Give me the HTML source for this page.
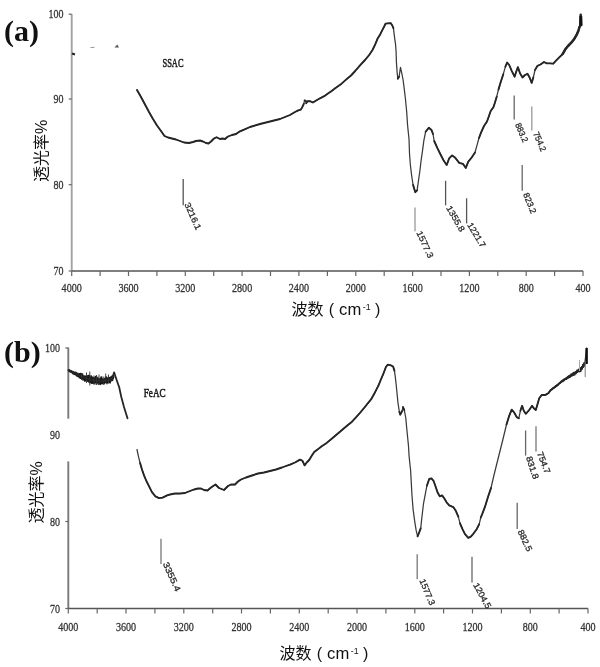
<!DOCTYPE html>
<html><head><meta charset="utf-8"><title>FTIR</title>
<style>html,body{margin:0;padding:0;background:#fff;width:600px;height:667px;overflow:hidden}svg{display:block}</style>
</head><body>
<svg width="600" height="667" viewBox="0 0 600 667">
<style>
.ax{stroke:#999;stroke-width:1.9}
.xax{stroke:#555;stroke-width:1.6}
.tk{stroke:#666;stroke-width:1.2}
.tl{font-family:"Liberation Serif",serif;font-size:13px;fill:#333;stroke:#333;stroke-width:0.3}
.pk{font-family:"Liberation Sans",sans-serif;font-size:8.7px;fill:#2a2a2a;stroke:#2a2a2a;stroke-width:0.3}
.cv{fill:none;stroke:#262626;stroke-width:1.85;stroke-linejoin:round;stroke-linecap:round}
.zh{font-family:"Liberation Sans","Noto Sans CJK SC",sans-serif;font-size:16px;fill:#111}
.lab{font-family:"Liberation Serif",serif;font-weight:bold;font-size:30px;fill:#111}
.nm{font-family:"Liberation Serif",serif;font-size:12.5px;fill:#1a1a1a;stroke:#1a1a1a;stroke-width:0.55}
</style>
<rect width="600" height="667" fill="#fff"/>
<!-- panel a -->
<text x="4" y="41" class="lab">(a)</text>
<line x1="71.7" y1="14" x2="71.7" y2="271" class="ax" style="stroke:#a2a2a2"/>
<line x1="71.7" y1="271" x2="583" y2="271" class="xax"/>
<line x1="71.7" y1="271" x2="71.7" y2="276" class="tk"/>
<line x1="100.1" y1="271" x2="100.1" y2="276" class="tk"/>
<line x1="128.5" y1="271" x2="128.5" y2="276" class="tk"/>
<line x1="156.9" y1="271" x2="156.9" y2="276" class="tk"/>
<line x1="185.3" y1="271" x2="185.3" y2="276" class="tk"/>
<line x1="213.7" y1="271" x2="213.7" y2="276" class="tk"/>
<line x1="242.1" y1="271" x2="242.1" y2="276" class="tk"/>
<line x1="270.5" y1="271" x2="270.5" y2="276" class="tk"/>
<line x1="298.9" y1="271" x2="298.9" y2="276" class="tk"/>
<line x1="327.4" y1="271" x2="327.4" y2="276" class="tk"/>
<line x1="355.8" y1="271" x2="355.8" y2="276" class="tk"/>
<line x1="384.2" y1="271" x2="384.2" y2="276" class="tk"/>
<line x1="412.6" y1="271" x2="412.6" y2="276" class="tk"/>
<line x1="441.0" y1="271" x2="441.0" y2="276" class="tk"/>
<line x1="469.4" y1="271" x2="469.4" y2="276" class="tk"/>
<line x1="497.8" y1="271" x2="497.8" y2="276" class="tk"/>
<line x1="526.2" y1="271" x2="526.2" y2="276" class="tk"/>
<line x1="554.6" y1="271" x2="554.6" y2="276" class="tk"/>
<line x1="583.0" y1="271" x2="583.0" y2="276" class="tk"/>
<text x="71.7" y="292" class="tl" text-anchor="middle" textLength="20.2" lengthAdjust="spacingAndGlyphs">4000</text>
<text x="128.5" y="292" class="tl" text-anchor="middle" textLength="20.2" lengthAdjust="spacingAndGlyphs">3600</text>
<text x="185.3" y="292" class="tl" text-anchor="middle" textLength="20.2" lengthAdjust="spacingAndGlyphs">3200</text>
<text x="242.1" y="292" class="tl" text-anchor="middle" textLength="20.2" lengthAdjust="spacingAndGlyphs">2800</text>
<text x="298.9" y="292" class="tl" text-anchor="middle" textLength="20.2" lengthAdjust="spacingAndGlyphs">2400</text>
<text x="355.8" y="292" class="tl" text-anchor="middle" textLength="20.2" lengthAdjust="spacingAndGlyphs">2000</text>
<text x="412.6" y="292" class="tl" text-anchor="middle" textLength="20.2" lengthAdjust="spacingAndGlyphs">1600</text>
<text x="469.4" y="292" class="tl" text-anchor="middle" textLength="20.2" lengthAdjust="spacingAndGlyphs">1200</text>
<text x="526.2" y="292" class="tl" text-anchor="middle" textLength="15.1" lengthAdjust="spacingAndGlyphs">800</text>
<text x="583.0" y="292" class="tl" text-anchor="middle" textLength="15.1" lengthAdjust="spacingAndGlyphs">400</text>
<line x1="68.7" y1="14.2" x2="71.7" y2="14.2" class="tk"/>
<text x="63.5" y="18.2" class="tl" text-anchor="end" textLength="15" lengthAdjust="spacingAndGlyphs">100</text>
<line x1="68.7" y1="99" x2="71.7" y2="99" class="tk"/>
<text x="63.5" y="103" class="tl" text-anchor="end" textLength="10" lengthAdjust="spacingAndGlyphs">90</text>
<line x1="68.7" y1="184.7" x2="71.7" y2="184.7" class="tk"/>
<text x="63.5" y="188.7" class="tl" text-anchor="end" textLength="10" lengthAdjust="spacingAndGlyphs">80</text>
<line x1="68.7" y1="271" x2="71.7" y2="271" class="tk"/>
<text x="63.5" y="275" class="tl" text-anchor="end" textLength="10" lengthAdjust="spacingAndGlyphs">70</text>
<text transform="translate(47,151) rotate(-90)" class="zh" text-anchor="middle">透光率%</text>
<text x="291.5" y="315" class="zh">波数</text><text x="328.8" y="315" class="zh">(</text><text x="339.1" y="315" class="zh" style="font-size:16.6px">cm</text><text x="362.8" y="309.7" class="zh" style="font-size:8.8px">-1</text><text x="375.1" y="315" class="zh">)</text>
<text x="162.5" y="67" class="nm" textLength="21" lengthAdjust="spacingAndGlyphs">SSAC</text>
<line x1="72" y1="53.5" x2="75" y2="54.5" stroke="#222" stroke-width="2"/>
<line x1="90.5" y1="47.6" x2="94.5" y2="47.3" stroke="#999" stroke-width="1"/>
<path d="M114.5 47.6 L119 47.6 L117.3 44.6 Z" fill="#555"/>
<polyline class="cv" points="137.0,90.0 141.0,97.0 145.0,104.5 149.0,112.0 153.0,119.0 157.0,125.5 161.0,131.0 164.5,136.0 168.0,137.5 172.0,138.5 176.0,139.5 180.0,141.0 184.0,142.5 189.0,143.0 193.0,142.0 196.0,141.0 200.0,140.5 203.0,141.5 206.0,143.0 208.5,143.5 211.0,141.5 214.0,138.5 216.5,137.2 220.0,139.0 222.5,138.5 225.0,139.0 228.0,136.5 232.0,135.0 236.0,134.0 240.0,131.3 244.0,129.7 250.0,127.0 260.0,124.0 270.0,121.5 280.0,119.0 285.0,117.0 290.0,115.0 295.0,112.0 298.3,110.4 300.8,109.6 302.5,106.7 303.8,103.8 304.6,100.4 305.8,100.8 306.2,103.3 307.5,101.2 310.0,101.2 312.9,102.5 315.8,100.8 320.0,98.3 324.2,96.2 328.3,93.3 331.0,91.5 335.2,88.3 340.5,84.6 345.5,80.1 351.0,75.5 355.2,71.0 360.0,65.4 365.0,60.0 369.2,55.0 372.5,50.0 375.0,44.9 377.6,38.6 380.2,34.4 382.3,30.2 384.2,26.5 385.5,23.7 388.1,23.4 390.7,23.1 392.3,25.5 393.4,28.1 393.9,31.8 394.7,38.6 395.5,43.8 396.1,51.7 396.4,61.9 397.1,72.0 397.8,78.7 399.1,76.7 400.5,67.3 401.8,73.3 403.1,80.0 404.0,86.8 405.4,98.5 406.7,112.0 407.6,125.5 409.0,139.0 409.5,153.5 410.4,165.2 411.7,176.0 413.1,185.0 415.3,192.2 417.1,190.4 418.5,180.5 419.8,171.5 421.2,159.8 422.5,150.8 423.8,140.8 425.6,131.8 428.8,127.7 431.5,130.0 433.0,134.0 434.2,141.0 437.5,148.3 440.8,155.0 443.8,160.8 446.7,165.0 449.2,158.3 452.1,155.4 455.0,157.5 459.2,162.9 462.9,163.8 465.8,167.9 468.3,161.7 471.7,157.5 475.0,152.5 477.5,143.3 479.0,138.0 481.0,132.7 484.0,126.0 487.0,121.5 488.9,116.2 490.7,111.0 493.4,107.2 494.9,102.7 496.7,96.7 498.5,89.5 500.8,81.7 503.3,74.2 505.4,66.7 507.1,62.5 509.2,65.0 511.7,70.8 514.6,76.7 516.2,71.7 517.9,67.1 520.0,73.3 522.5,77.5 525.0,75.0 527.5,73.8 529.6,77.5 531.7,82.9 533.3,77.5 535.0,70.0 537.5,65.8 540.5,64.5 544.0,62.0 546.7,63.3 550.0,63.3 553.3,63.7 556.0,60.7 559.3,57.3 562.7,54.0 565.3,49.3 568.0,46.0 571.3,42.7 574.0,39.3 576.7,34.7 578.5,30.5 579.3,27.5 580.3,25.5 580.7,14.8 581.2,25.0" style="stroke-width:1.25;stroke:#3a3a3a"/>
<polyline class="cv" points="137.0,90.0 141.0,97.0 145.0,104.5 149.0,112.0 153.0,119.0 157.0,125.5 161.0,131.0 164.5,136.0 168.0,137.5 172.0,138.5 176.0,139.5 180.0,141.0 184.0,142.5 189.0,143.0 193.0,142.0 196.0,141.0 200.0,140.5 203.0,141.5 206.0,143.0 208.5,143.5 211.0,141.5 214.0,138.5 216.5,137.2 220.0,139.0 222.5,138.5 225.0,139.0 228.0,136.5 232.0,135.0 236.0,134.0 240.0,131.3 244.0,129.7 250.0,127.0 260.0,124.0 270.0,121.5 280.0,119.0 285.0,117.0 290.0,115.0 295.0,112.0 298.3,110.4 300.8,109.6 302.5,106.7 303.8,103.8"/>
<polyline class="cv" points="304.6,100.4 305.8,100.8"/>
<polyline class="cv" points="306.2,103.3 307.5,101.2 310.0,101.2 312.9,102.5 315.8,100.8 320.0,98.3 324.2,96.2 328.3,93.3 331.0,91.5 335.2,88.3 340.5,84.6 345.5,80.1 351.0,75.5 355.2,71.0 360.0,65.4 365.0,60.0 369.2,55.0 372.5,50.0 375.0,44.9 377.6,38.6 380.2,34.4 382.3,30.2 384.2,26.5 385.5,23.7 388.1,23.4 390.7,23.1 392.3,25.5 393.4,28.1"/>
<polyline class="cv" points="397.8,78.7 399.1,76.7"/>
<polyline class="cv" points="413.1,185.0 415.3,192.2 417.1,190.4"/>
<polyline class="cv" points="425.6,131.8 428.8,127.7 431.5,130.0 433.0,134.0"/>
<polyline class="cv" points="434.2,141.0 437.5,148.3 440.8,155.0 443.8,160.8 446.7,165.0 449.2,158.3 452.1,155.4 455.0,157.5 459.2,162.9 462.9,163.8 465.8,167.9 468.3,161.7 471.7,157.5 475.0,152.5"/>
<polyline class="cv" points="479.0,138.0 481.0,132.7 484.0,126.0 487.0,121.5 488.9,116.2 490.7,111.0 493.4,107.2 494.9,102.7 496.7,96.7"/>
<polyline class="cv" points="498.5,89.5 500.8,81.7 503.3,74.2"/>
<polyline class="cv" points="505.4,66.7 507.1,62.5 509.2,65.0 511.7,70.8 514.6,76.7 516.2,71.7 517.9,67.1 520.0,73.3 522.5,77.5 525.0,75.0 527.5,73.8 529.6,77.5 531.7,82.9 533.3,77.5"/>
<polyline class="cv" points="535.0,70.0 537.5,65.8 540.5,64.5 544.0,62.0 546.7,63.3 550.0,63.3 553.3,63.7 556.0,60.7 559.3,57.3 562.7,54.0 565.3,49.3 568.0,46.0 571.3,42.7 574.0,39.3 576.7,34.7 578.5,30.5"/>
<polyline class="cv" points="579.3,27.5 580.3,25.5"/>
<polyline class="cv" points="562.7,54.0 565.3,49.3 568.0,46.0 571.3,42.7 574.0,39.3 576.7,34.7 578.5,30.5 579.3,27.5 580.3,25.5 580.7,14.8 581.2,25.0" style="stroke-width:2.5"/>
<line x1="580.8" y1="16" x2="580.9" y2="25.5" stroke="#111" stroke-width="2.8"/>
<line x1="183.2" y1="178.9" x2="183.2" y2="205.2" stroke="#555" stroke-width="1.3"/>
<text transform="translate(184.3,204.2) rotate(66)" class="pk" textLength="29.0" lengthAdjust="spacingAndGlyphs">3216.1</text>
<line x1="415" y1="207.5" x2="415" y2="231.2" stroke="#999" stroke-width="1.3"/>
<text transform="translate(416.2,232.8) rotate(64.8)" class="pk" textLength="28.7" lengthAdjust="spacingAndGlyphs">1577.3</text>
<line x1="445.6" y1="180.8" x2="445.6" y2="205.3" stroke="#555" stroke-width="1.3"/>
<text transform="translate(446.0,208.0) rotate(60.1)" class="pk" textLength="28.3" lengthAdjust="spacingAndGlyphs">1355.8</text>
<line x1="466.6" y1="198.3" x2="466.6" y2="223.4" stroke="#555" stroke-width="1.3"/>
<text transform="translate(467.0,225.1) rotate(58.6)" class="pk" textLength="27.2" lengthAdjust="spacingAndGlyphs">1221.7</text>
<line x1="514.2" y1="95.6" x2="514.2" y2="119.6" stroke="#666" stroke-width="1.3"/>
<text transform="translate(515.0,124.4) rotate(66.7)" class="pk" textLength="20.2" lengthAdjust="spacingAndGlyphs">883.2</text>
<line x1="531.8" y1="106.4" x2="531.8" y2="130.4" stroke="#999" stroke-width="1.3"/>
<text transform="translate(533.0,133.4) rotate(66.6)" class="pk" textLength="20.6" lengthAdjust="spacingAndGlyphs">754.2</text>
<line x1="522.2" y1="165" x2="522.2" y2="190.8" stroke="#666" stroke-width="1.3"/>
<text transform="translate(523.0,194.3) rotate(67.8)" class="pk" textLength="21.6" lengthAdjust="spacingAndGlyphs">823.2</text>
<!-- panel b -->
<text x="4" y="362" class="lab">(b)</text>
<line x1="68.3" y1="347.5" x2="68.3" y2="418.7" class="ax" style="stroke:#7a7a7a"/>
<line x1="68.3" y1="461.4" x2="68.3" y2="608.5" class="ax" style="stroke:#7a7a7a"/>
<line x1="68.3" y1="608.5" x2="588" y2="608.5" class="xax"/>
<line x1="68.3" y1="608.5" x2="68.3" y2="613.5" class="tk"/>
<line x1="97.2" y1="608.5" x2="97.2" y2="613.5" class="tk"/>
<line x1="126.0" y1="608.5" x2="126.0" y2="613.5" class="tk"/>
<line x1="154.9" y1="608.5" x2="154.9" y2="613.5" class="tk"/>
<line x1="183.8" y1="608.5" x2="183.8" y2="613.5" class="tk"/>
<line x1="212.7" y1="608.5" x2="212.7" y2="613.5" class="tk"/>
<line x1="241.5" y1="608.5" x2="241.5" y2="613.5" class="tk"/>
<line x1="270.4" y1="608.5" x2="270.4" y2="613.5" class="tk"/>
<line x1="299.3" y1="608.5" x2="299.3" y2="613.5" class="tk"/>
<line x1="328.2" y1="608.5" x2="328.2" y2="613.5" class="tk"/>
<line x1="357.0" y1="608.5" x2="357.0" y2="613.5" class="tk"/>
<line x1="385.9" y1="608.5" x2="385.9" y2="613.5" class="tk"/>
<line x1="414.8" y1="608.5" x2="414.8" y2="613.5" class="tk"/>
<line x1="443.6" y1="608.5" x2="443.6" y2="613.5" class="tk"/>
<line x1="472.5" y1="608.5" x2="472.5" y2="613.5" class="tk"/>
<line x1="501.4" y1="608.5" x2="501.4" y2="613.5" class="tk"/>
<line x1="530.3" y1="608.5" x2="530.3" y2="613.5" class="tk"/>
<line x1="559.1" y1="608.5" x2="559.1" y2="613.5" class="tk"/>
<line x1="588.0" y1="608.5" x2="588.0" y2="613.5" class="tk"/>
<text x="68.3" y="631" class="tl" text-anchor="middle" textLength="20.2" lengthAdjust="spacingAndGlyphs">4000</text>
<text x="126.0" y="631" class="tl" text-anchor="middle" textLength="20.2" lengthAdjust="spacingAndGlyphs">3600</text>
<text x="183.8" y="631" class="tl" text-anchor="middle" textLength="20.2" lengthAdjust="spacingAndGlyphs">3200</text>
<text x="241.5" y="631" class="tl" text-anchor="middle" textLength="20.2" lengthAdjust="spacingAndGlyphs">2800</text>
<text x="299.3" y="631" class="tl" text-anchor="middle" textLength="20.2" lengthAdjust="spacingAndGlyphs">2400</text>
<text x="357.0" y="631" class="tl" text-anchor="middle" textLength="20.2" lengthAdjust="spacingAndGlyphs">2000</text>
<text x="414.8" y="631" class="tl" text-anchor="middle" textLength="20.2" lengthAdjust="spacingAndGlyphs">1600</text>
<text x="472.5" y="631" class="tl" text-anchor="middle" textLength="20.2" lengthAdjust="spacingAndGlyphs">1200</text>
<text x="530.3" y="631" class="tl" text-anchor="middle" textLength="15.1" lengthAdjust="spacingAndGlyphs">800</text>
<text x="588.0" y="631" class="tl" text-anchor="middle" textLength="15.1" lengthAdjust="spacingAndGlyphs">400</text>
<line x1="65.3" y1="348" x2="68.3" y2="348" class="tk"/>
<text x="60" y="352" class="tl" text-anchor="end" textLength="15" lengthAdjust="spacingAndGlyphs">100</text>
<text x="60" y="438.7" class="tl" text-anchor="end" textLength="10" lengthAdjust="spacingAndGlyphs">90</text>
<line x1="65.3" y1="521.5" x2="68.3" y2="521.5" class="tk"/>
<text x="60" y="525.5" class="tl" text-anchor="end" textLength="10" lengthAdjust="spacingAndGlyphs">80</text>
<line x1="65.3" y1="608.5" x2="68.3" y2="608.5" class="tk"/>
<text x="60" y="612.5" class="tl" text-anchor="end" textLength="10" lengthAdjust="spacingAndGlyphs">70</text>
<text transform="translate(42,492.5) rotate(-90)" class="zh" text-anchor="middle">透光率%</text>
<text x="279.5" y="659" class="zh">波数</text><text x="316.8" y="659" class="zh">(</text><text x="327.1" y="659" class="zh" style="font-size:16.6px">cm</text><text x="350.8" y="653.7" class="zh" style="font-size:8.8px">-1</text><text x="363.1" y="659" class="zh">)</text>
<text x="143.7" y="397" class="nm" textLength="22" lengthAdjust="spacingAndGlyphs">FeAC</text>
<polyline class="cv" points="68.6,370.8 69.0,369.7 69.4,371.4 69.8,370.1 70.2,372.0 70.6,370.8 71.0,372.0 71.4,370.6 71.8,372.6 72.2,371.4 72.6,373.7 73.0,371.5 73.4,374.0 73.8,371.9 74.2,374.3 74.6,372.5 75.0,374.7 75.4,372.1 75.8,375.1 76.2,372.5 76.6,375.8 77.0,373.5 77.4,376.4 77.8,373.1 78.2,376.3 78.6,374.1 79.0,377.6 79.4,373.7 79.8,377.9 80.2,373.3 80.6,378.4 81.0,373.4 81.4,378.3 81.8,373.8 82.2,378.9 82.6,373.8 83.0,380.1 83.4,375.8 83.8,379.1 84.2,375.9 84.6,381.1 85.0,375.8 85.4,380.8 85.8,376.2 86.2,380.8 86.6,376.2 87.0,380.7 87.4,375.9 87.8,381.4 88.2,375.4 88.6,381.9 89.0,375.5 89.4,382.5 89.8,375.5 90.2,382.3 90.6,377.6 91.0,383.0 91.4,375.9 91.8,383.4 92.2,377.0 92.6,383.2 93.0,378.0 93.4,383.7 93.8,377.3 94.2,382.6 94.6,378.6 95.0,384.0 95.4,376.4 95.8,382.3 96.2,376.9 96.6,383.1 97.0,378.6 97.4,382.9 97.8,377.2 98.2,384.3 98.6,379.0 99.0,383.8 99.4,379.0 99.8,384.1 100.2,378.4 100.6,384.5 101.0,376.9 101.4,383.7 101.8,376.9 102.2,383.3 102.6,379.2 103.0,384.0 103.4,379.3 103.8,382.9 104.2,378.3 104.6,383.7 105.0,378.8 105.4,382.3 105.8,377.2 106.2,382.7 106.6,376.9 107.0,383.8 107.4,378.1 107.8,382.7 108.2,377.8 108.6,382.9 109.0,377.6 109.4,382.6 109.8,377.5 110.2,383.0 110.6,377.2 111.0,381.3 111.4,376.2 111.8,380.1 112.2,376.5 112.6,380.5 113.0,375.5 113.4,378.9" style="stroke-width:1.3;stroke:#1a1a1a"/>
<polyline class="cv" points="68.6,370.3 75.0,373.5 85.0,378.0 94.0,380.3 103.0,381.0 110.0,380.0 113.5,377.0" style="stroke-width:2.2"/>
<polyline class="cv" points="112.0,379.5 114.1,372.3 116.9,380.7 119.2,387.2 121.3,397.0 124.0,407.0 127.5,418.3" style="stroke-width:1.8"/>
<line x1="89.8" y1="371.5" x2="89.8" y2="385.5" stroke="#333" stroke-width="0.9"/>
<line x1="94" y1="375.5" x2="94" y2="384.5" stroke="#333" stroke-width="0.9"/>
<line x1="103.8" y1="376.5" x2="103.8" y2="385" stroke="#333" stroke-width="0.9"/>
<line x1="105.7" y1="373.5" x2="105.7" y2="382" stroke="#333" stroke-width="0.9"/>
<line x1="86.5" y1="372.5" x2="86.5" y2="383" stroke="#333" stroke-width="0.9"/>
<line x1="99" y1="374.5" x2="99" y2="384.5" stroke="#333" stroke-width="0.9"/>
<line x1="108.5" y1="374.5" x2="108.5" y2="383" stroke="#333" stroke-width="0.9"/>
<line x1="81.5" y1="373" x2="81.5" y2="380" stroke="#333" stroke-width="0.9"/>
<line x1="96.5" y1="375" x2="96.5" y2="385" stroke="#333" stroke-width="0.9"/>
<polyline class="cv" points="137.0,449.5 138.3,455.8 140.1,463.0 141.9,469.3 144.1,475.6 146.4,481.0 149.1,486.4 151.8,491.8 155.4,496.3 159.0,498.1 162.6,497.6 167.1,495.4 170.0,494.5 175.0,493.5 180.0,493.5 185.0,493.0 190.0,491.0 194.0,489.5 198.0,488.5 201.0,488.5 204.0,490.0 207.5,490.5 211.0,487.5 215.5,484.5 219.0,488.0 224.0,490.0 228.0,486.0 231.0,484.5 235.0,484.5 238.0,481.5 241.0,479.5 246.0,477.5 252.0,475.5 258.0,473.5 264.0,472.5 270.0,471.0 276.0,469.5 282.0,467.5 286.0,466.0 290.0,464.6 295.0,462.5 300.0,459.6 302.5,460.8 304.6,465.4 306.7,462.5 309.2,460.0 311.7,455.8 314.2,452.1 317.5,449.6 321.7,446.2 326.7,442.9 332.0,438.5 337.0,434.2 342.0,430.0 347.0,425.8 352.0,421.7 356.2,417.1 360.3,412.5 364.5,407.5 367.8,403.3 371.2,399.2 374.5,393.3 377.0,388.3 378.7,385.0 380.5,380.5 383.2,374.2 385.9,367.0 387.7,364.7 390.4,365.2 393.1,366.5 394.4,370.6 395.3,376.9 396.2,385.0 397.1,394.0 398.0,403.0 399.4,412.0 400.3,414.7 402.1,411.0 403.0,407.0 404.3,410.2 405.8,418.0 406.7,428.0 407.6,437.0 408.5,446.0 409.0,455.0 409.9,464.0 410.6,470.0 411.2,481.2 412.0,495.8 413.1,509.3 414.6,520.6 416.2,530.7 417.6,536.3 419.0,532.9 420.7,528.4 421.9,517.2 423.5,503.7 425.2,494.7 426.9,485.7 429.2,479.0 431.4,478.4 433.7,481.2 435.3,485.7 437.6,492.5 439.8,496.4 442.1,495.4 444.2,498.3 446.7,502.5 449.2,505.4 453.3,507.1 455.8,510.8 458.3,516.7 460.0,523.3 462.5,529.2 465.0,534.2 468.3,537.9 470.8,536.7 473.3,533.8 476.7,529.2 479.2,524.2 480.8,517.5 482.5,513.3 485.0,506.7 488.0,497.0 491.0,488.0 494.0,475.0 497.0,463.0 500.0,451.0 503.0,439.0 506.5,424.5 509.2,415.8 511.7,409.6 514.2,412.5 516.7,417.1 518.8,418.3 520.4,410.8 522.1,405.8 523.8,410.8 525.8,413.8 529.2,410.0 532.1,405.8 533.8,408.3 535.8,410.0 537.5,404.2 539.2,398.3 541.7,395.0 545.0,395.0 548.3,393.3 550.8,390.0 554.2,387.5 558.7,383.9 563.0,380.5 568.0,377.3 575.5,372.7 581.1,368.9 584.8,363.3 586.7,348.0 586.7,363.3" style="stroke-width:1.25;stroke:#3a3a3a"/>
<polyline class="cv" points="140.1,463.0 141.9,469.3 144.1,475.6 146.4,481.0 149.1,486.4 151.8,491.8 155.4,496.3 159.0,498.1 162.6,497.6 167.1,495.4 170.0,494.5 175.0,493.5 180.0,493.5 185.0,493.0 190.0,491.0 194.0,489.5 198.0,488.5 201.0,488.5 204.0,490.0 207.5,490.5 211.0,487.5 215.5,484.5 219.0,488.0 224.0,490.0 228.0,486.0 231.0,484.5 235.0,484.5 238.0,481.5 241.0,479.5 246.0,477.5 252.0,475.5 258.0,473.5 264.0,472.5 270.0,471.0 276.0,469.5 282.0,467.5 286.0,466.0 290.0,464.6 295.0,462.5 300.0,459.6 302.5,460.8 304.6,465.4 306.7,462.5 309.2,460.0 311.7,455.8 314.2,452.1 317.5,449.6 321.7,446.2 326.7,442.9 332.0,438.5 337.0,434.2 342.0,430.0 347.0,425.8 352.0,421.7 356.2,417.1 360.3,412.5 364.5,407.5 367.8,403.3 371.2,399.2 374.5,393.3 377.0,388.3 378.7,385.0 380.5,380.5 383.2,374.2 385.9,367.0 387.7,364.7 390.4,365.2 393.1,366.5 394.4,370.6"/>
<polyline class="cv" points="399.4,412.0 400.3,414.7 402.1,411.0"/>
<polyline class="cv" points="403.0,407.0 404.3,410.2"/>
<polyline class="cv" points="417.6,536.3 419.0,532.9 420.7,528.4"/>
<polyline class="cv" points="426.9,485.7 429.2,479.0 431.4,478.4 433.7,481.2 435.3,485.7 437.6,492.5 439.8,496.4 442.1,495.4 444.2,498.3 446.7,502.5 449.2,505.4 453.3,507.1 455.8,510.8 458.3,516.7"/>
<polyline class="cv" points="460.0,523.3 462.5,529.2 465.0,534.2 468.3,537.9 470.8,536.7 473.3,533.8 476.7,529.2 479.2,524.2"/>
<polyline class="cv" points="480.8,517.5 482.5,513.3 485.0,506.7 488.0,497.0 491.0,488.0"/>
<polyline class="cv" points="506.5,424.5 509.2,415.8 511.7,409.6 514.2,412.5 516.7,417.1 518.8,418.3"/>
<polyline class="cv" points="520.4,410.8 522.1,405.8 523.8,410.8 525.8,413.8 529.2,410.0 532.1,405.8 533.8,408.3 535.8,410.0 537.5,404.2 539.2,398.3 541.7,395.0 545.0,395.0 548.3,393.3 550.8,390.0 554.2,387.5 558.7,383.9 563.0,380.5 568.0,377.3 575.5,372.7 581.1,368.9 584.8,363.3"/>
<polyline class="cv" points="545.0,395.3 545.6,394.4 546.2,394.8 546.8,393.8 547.4,394.2 548.0,393.1 548.6,393.2 549.2,391.6 549.8,391.6 550.4,390.0 551.0,390.2 551.6,389.0 552.2,389.5 552.8,387.8 553.4,388.5 554.0,387.2 554.6,387.9 555.2,385.8 555.8,387.0 556.4,385.1 557.0,386.3 557.6,384.3 558.2,385.3 558.8,383.2 559.4,383.9 560.0,382.3 560.6,383.1 561.2,380.8 561.8,382.1 562.4,380.0 563.0,381.6 563.6,379.2 564.2,380.8 564.8,378.7 565.4,379.6 566.0,377.8 566.6,379.5 567.2,376.8 567.8,378.4 568.4,375.8 569.0,377.8 569.6,375.3 570.2,377.5 570.8,374.1 571.4,376.2 572.0,373.5 572.6,375.8 573.2,372.3 573.8,375.4 574.4,372.2 575.0,375.0 575.6,371.7 576.2,373.6 576.8,370.0 577.4,372.5 578.0,369.5 578.6,371.6 579.2,368.3 579.8,371.8 580.4,367.6 581.0,371.3 581.6,366.7 582.2,369.3 582.8,364.3 583.4,367.4 584.0,362.7 584.6,366.1" style="stroke-width:1.2"/>
<polyline class="cv" points="568.0,377.3 575.5,372.7 581.1,368.9 584.8,363.3" style="stroke-width:2.4"/>
<line x1="586.6" y1="348" x2="586.6" y2="364" stroke="#111" stroke-width="2.4"/>
<line x1="585.2" y1="362" x2="585.2" y2="377" stroke="#777" stroke-width="1"/>
<line x1="579.5" y1="360" x2="579.5" y2="371" stroke="#aaa" stroke-width="1"/>
<line x1="161" y1="538.7" x2="161" y2="564" stroke="#777" stroke-width="1.3"/>
<text transform="translate(162.7,563.8) rotate(65.6)" class="pk" textLength="31.0" lengthAdjust="spacingAndGlyphs">3355.4</text>
<line x1="417.2" y1="554.2" x2="417.2" y2="579.2" stroke="#777" stroke-width="1.3"/>
<text transform="translate(419.2,580.6) rotate(67.0)" class="pk" textLength="27.5" lengthAdjust="spacingAndGlyphs">1577.3</text>
<line x1="472" y1="556.7" x2="472" y2="582.5" stroke="#666" stroke-width="1.3"/>
<text transform="translate(473.0,584.9) rotate(61.3)" class="pk" textLength="27.8" lengthAdjust="spacingAndGlyphs">1204.5</text>
<line x1="525.6" y1="430.5" x2="525.6" y2="455.6" stroke="#666" stroke-width="1.3"/>
<text transform="translate(526.0,457.5) rotate(72)" class="pk" textLength="23.5" lengthAdjust="spacingAndGlyphs">831.8</text>
<line x1="536" y1="426.3" x2="536" y2="451.4" stroke="#777" stroke-width="1.3"/>
<text transform="translate(537.0,453.2) rotate(69.0)" class="pk" textLength="22.6" lengthAdjust="spacingAndGlyphs">754.7</text>
<line x1="517.2" y1="502.8" x2="517.2" y2="529" stroke="#666" stroke-width="1.3"/>
<text transform="translate(517.5,531.5) rotate(64.9)" class="pk" textLength="22.9" lengthAdjust="spacingAndGlyphs">882.5</text>
</svg>
</body></html>
